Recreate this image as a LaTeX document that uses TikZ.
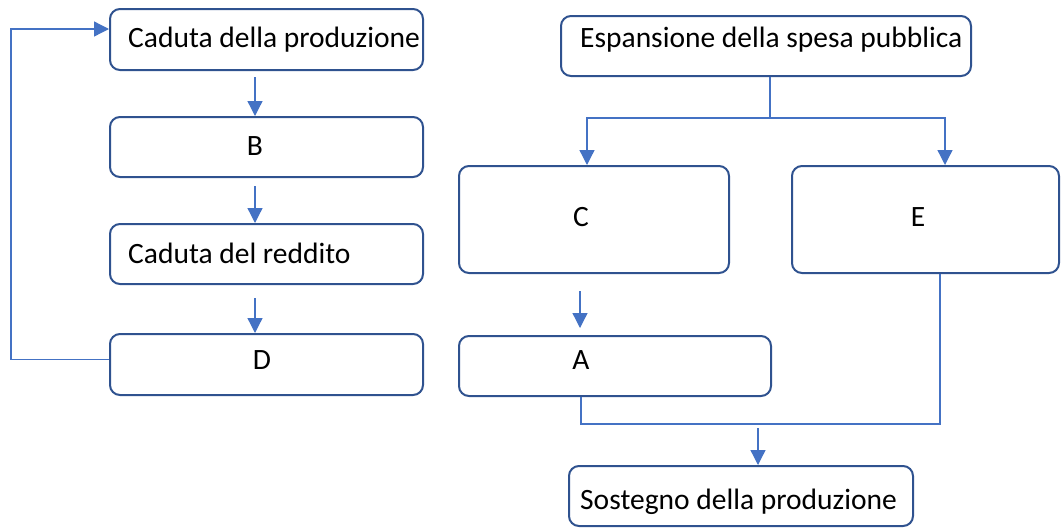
\documentclass[tikz,border=0pt]{standalone}
\usepackage{fontspec}
\setmainfont{Carlito}
\usetikzlibrary{arrows.meta,calc}

\definecolor{boxblue}{HTML}{2F528F}
\definecolor{linkblue}{HTML}{4472C4}

\tikzset{
  box/.style={draw=boxblue, line width=2pt, rounded corners=10pt, inner sep=0pt},
  txt/.style={font=\fontsize{29.5}{34}\selectfont, inner sep=0pt},
  conn/.style={draw=linkblue, line width=1.3pt},
  arr/.style={conn, -{Triangle[width=15pt,length=15pt]}}
}

\begin{document}
\begin{tikzpicture}[x=1pt,y=-1pt]
\useasboundingbox (0,0) rectangle (1061,528);
% left column
\node[box, minimum width=313pt, minimum height=61pt] (prod) at (266.5,39.5) {};
\node[box, minimum width=313pt, minimum height=60pt] (B) at (266.5,147) {};
\node[box, minimum width=313pt, minimum height=60pt] (redd) at (266.5,254) {};
\node[box, minimum width=313pt, minimum height=61pt] (D) at (266.5,364.5) {};
\node[txt, anchor=west] (tprod) at (128,40) {Caduta della produzione};
\node[txt] (tB) at (255,146) {B};
\node[txt, anchor=west] (tredd) at (128,253) {Caduta del reddito};
\node[txt] (tD) at (262,360) {D};
% right part
\node[box, minimum width=410pt, minimum height=60pt] (esp) at (766,46) {};
\node[box, minimum width=270pt, minimum height=107pt] (C) at (594,219.5) {};
\node[box, minimum width=267pt, minimum height=107pt] (E) at (925.5,219.5) {};
\node[box, minimum width=312pt, minimum height=60pt] (A) at (615,366) {};
\node[box, minimum width=344pt, minimum height=60pt] (sost) at (741,496) {};
\node[txt, anchor=west] (tesp) at (580,40) {Espansione della spesa pubblica};
\node[txt] (tC) at (581,217) {C};
\node[txt] (tE) at (918,217) {E};
\node[txt] (tA) at (581,360) {A};
\node[txt, anchor=west] (tsost) at (580,502) {Sostegno della produzione};
\coordinate (split) at (770,118);
\coordinate (join) at (758,424);

\draw[arr, shorten <=6pt] ([xshift=-11.5pt]prod.south) -- ([xshift=-11.5pt]B.north);
\draw[arr, shorten <=8pt] ([xshift=-11.5pt]B.south) -- ([xshift=-11.5pt]redd.north);
\draw[arr, shorten <=13pt] ([xshift=-11.5pt]redd.south) -- ([xshift=-11.5pt]D.north);
\draw[arr] ([yshift=5pt]D.west) -- ++(-98,0) |- ([yshift=10.5pt]prod.west);

\draw[conn] (esp.south -| split) -- (split);
\draw[arr] (split) -| ([xshift=-7pt]C.north);
\draw[arr] (split) -| ([xshift=19.5pt]E.north);
\draw[arr, shorten <=17pt, shorten >=7pt] ([xshift=-14pt]C.south) -- ([xshift=-14pt]C.south |- A.north);
\draw[conn] ([xshift=-34pt]A.south) |- (join) -| ([xshift=14.5pt]E.south);
\draw[arr, shorten <=4pt] (join) -- (join |- sost.north);
\end{tikzpicture}
\end{document}
